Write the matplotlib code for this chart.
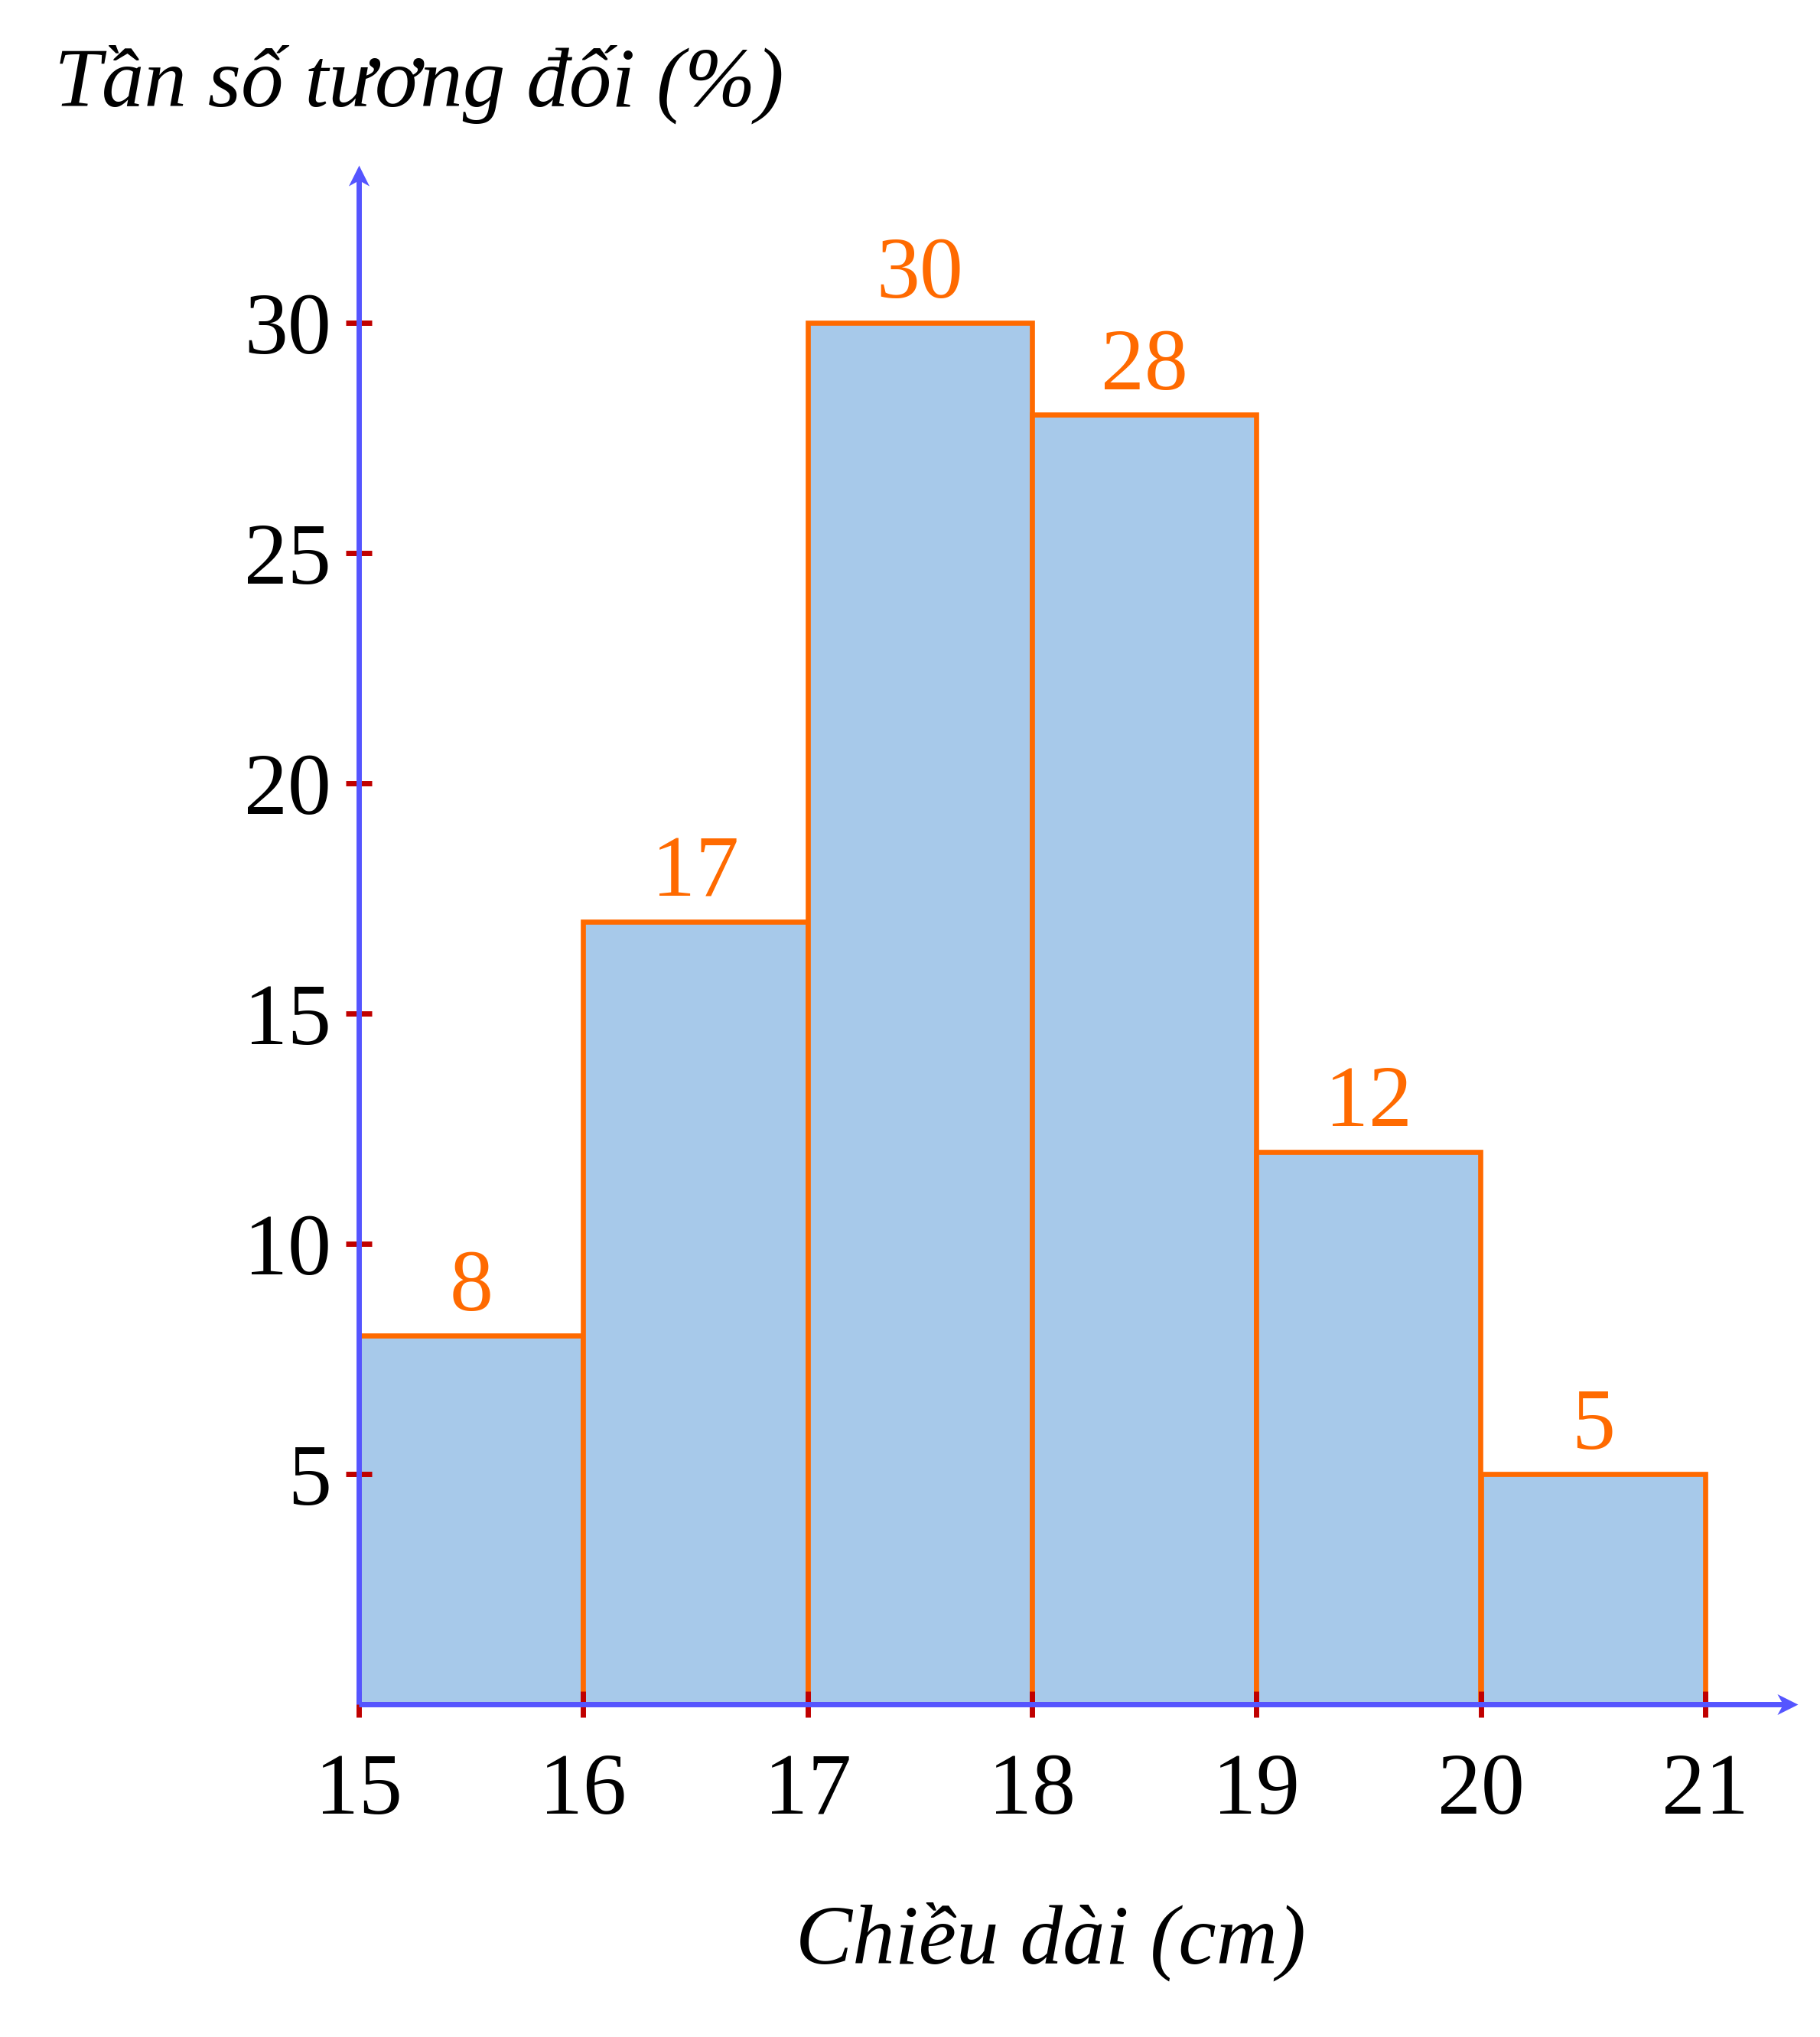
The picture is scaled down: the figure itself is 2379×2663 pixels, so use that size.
import matplotlib.pyplot as plt
from matplotlib.path import Path

# data
edges = [15, 16, 17, 18, 19, 20, 21]
freq = [8, 17, 30, 28, 12, 5]
yticks = [5, 10, 15, 20, 25, 30]
title = "Tần số tương đối (%)"
xlabel = "Chiều dài (cm)"

blue = "#5555ff"
orange = "#ff6a00"
fill = "#a7c9ea"
red = "#c00000"
fonts = ["Liberation Serif", "DejaVu Serif"]
fs = 82

plt.rcParams["font.family"] = fonts

W, H = 2379, 2663
fig = plt.figure(figsize=(W / 100, H / 100), dpi=100)

# axes placed so that the arrow tips sit at the axes corners
x0, x1 = 469, 2350
y0, y1 = 2228, 216
ax = fig.add_axes([x0 / W, 1 - y0 / H, (x1 - x0) / W, (y0 - y1) / H])
ax.set_xlim(15, 15 + (x1 - x0) / 293.3)
ax.set_ylim(0, (y0 - y1) / 60.2)
for s in ax.spines.values():
    s.set_visible(False)

lefts = edges[:-1]
bars = ax.bar(lefts, freq, width=1, align="edge", color=fill,
              edgecolor=orange, linewidth=4.8, zorder=2)
for l, v in zip(lefts, freq):
    ax.annotate(str(v), (l + 0.5, v), xytext=(0, 24), textcoords="offset points",
                ha="center", va="baseline", color=orange, fontsize=fs)

# axis lines with stealth arrow heads
xmax = ax.get_xlim()[1]
ymax = ax.get_ylim()[1]
head = Path([(0, 0), (-1, 0.5), (-0.72, 0), (-1, -0.5), (0, 0)],
            [Path.MOVETO, Path.LINETO, Path.LINETO, Path.LINETO, Path.CLOSEPOLY])
head_up = Path([(-y, x) for x, y in head.vertices], head.codes)
ax.plot([15, xmax - 0.05], [0, 0], color=blue, lw=5, zorder=3,
        solid_capstyle="butt", clip_on=False)
ax.plot([15, 15], [0, ymax - 0.25], color=blue, lw=5, zorder=3,
        solid_capstyle="butt", clip_on=False)
ax.plot([xmax], [0], marker=head, ms=39, color=blue, mew=0, zorder=3, clip_on=False)
ax.plot([15], [ymax], marker=head_up, ms=39, color=blue, mew=0, zorder=3, clip_on=False)

ax.set_xticks(edges)
ax.set_yticks(yticks)
ax.tick_params(direction="inout", length=24, width=5, color=red,
               labelsize=fs, labelcolor="black")
ax.tick_params(axis="x", pad=34)
ax.tick_params(axis="y", pad=14)
for t in ax.xaxis.get_major_ticks() + ax.yaxis.get_major_ticks():
    t.tick1line.set_zorder(5)
ax.set_axisbelow(False)

fig.text(71 / W, 1 - 139 / H, title, ha="left", va="baseline",
         fontsize=80, style="italic")
fig.text(1373 / W, 1 - 2567 / H, xlabel, ha="center", va="baseline",
         fontsize=80, style="italic")

fig.savefig("out.png", dpi=100)
